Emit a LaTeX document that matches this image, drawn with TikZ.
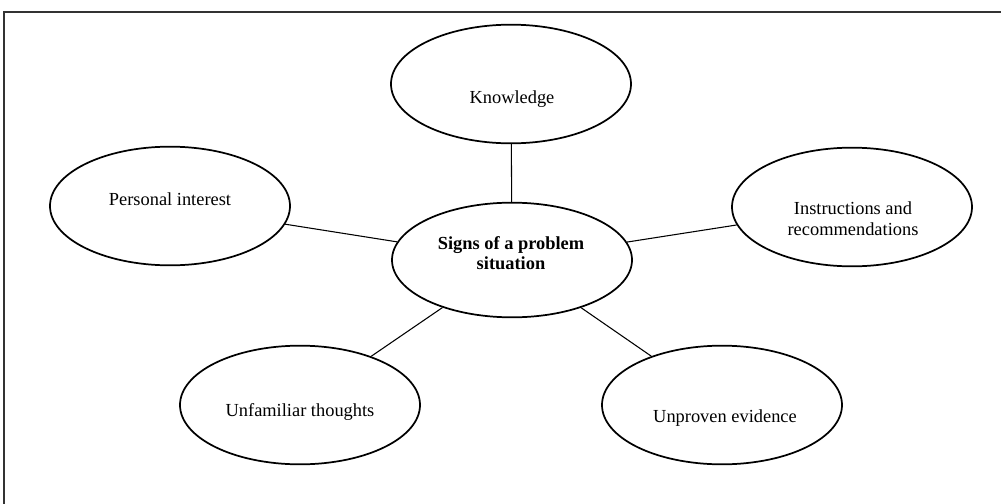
\documentclass[tikz,border=0pt]{standalone}
\usepackage{fontspec}
\setmainfont{Liberation Serif}
\usetikzlibrary{shapes.geometric}
\begin{document}
\begin{tikzpicture}[x=0.75pt,y=-0.75pt,
  bubble/.style={ellipse,draw=black,line width=1.3pt,inner sep=0pt,
    minimum width=180pt,minimum height=89pt},
  lbl/.style={inner sep=0pt,align=center,font=\fontsize{13.8pt}{15.5pt}\selectfont},
  link/.style={draw=black,line width=0.8pt},
  frame/.style={draw=black!80,line width=0.8pt}]
\useasboundingbox (0,0) rectangle (1001,504);
\coordinate (fTR) at (1001,12);
\coordinate (fTL) at (4,12);
\coordinate (fBL) at (4,504);
\draw[frame] (fTR) -- (fTL) -- (fBL);

\node[bubble] (know) at (511,84) {};
\node[bubble] (pers) at (170,206) {};
\node[bubble,minimum height=86pt] (ctr) at (512,260) {};
\node[bubble] (instr) at (852,207) {};
\node[bubble] (unfam) at (300,405) {};
\node[bubble] (unpr) at (722,405) {};

\node[lbl] (knowT) at (512,99) {Knowledge};
\node[lbl] (persT) at (170,199) {Personal interest};
\node[lbl,font=\fontsize{13.8pt}{15pt}\selectfont\bfseries] (ctrT) at (511,253) {Signs of a problem\\situation};
\node[lbl] (instrT) at (853,219) {Instructions and\\recommendations};
\node[lbl] (unfamT) at (300,412) {Unfamiliar thoughts};
\node[lbl] (unprT) at (725,418) {Unproven evidence};

\draw[link] (know) -- (ctr);
\draw[link] (pers) -- (ctr);
\draw[link] (instr) -- (ctr);
\draw[link] (unfam) -- (ctr);
\draw[link] (unpr) -- (ctr);
\end{tikzpicture}
\end{document}
